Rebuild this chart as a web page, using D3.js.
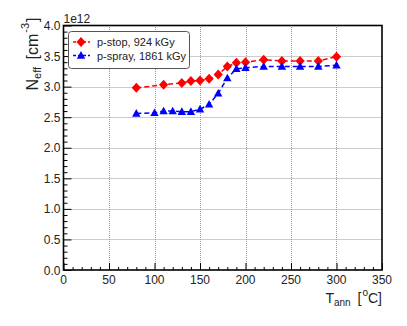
<!DOCTYPE html>
<html>
<head>
<meta charset="utf-8">
<script src="https://cdn.jsdelivr.net/npm/d3@7"></script>
<style>
  body { margin: 0; background: #fff; }
  text { font-family: "Liberation Sans", Arial, sans-serif; }
</style>
</head>
<body>
<svg id="chart" width="407" height="326"></svg>
<script>
// p-stop, 924 kGy
const stopT = [80, 110, 130, 140, 150, 160, 170, 180, 190, 200, 220, 240, 260, 280, 300];
const stopN = [2.98, 3.03, 3.06, 3.09, 3.10, 3.13, 3.20, 3.33, 3.39, 3.40, 3.44, 3.42, 3.42, 3.42, 3.49];
// p-spray, 1861 kGy
const sprayT = [80, 100, 110, 120, 130, 140, 150, 160, 170, 180, 190, 200, 220, 240, 260, 280, 300];
const sprayN = [2.56, 2.57, 2.60, 2.60, 2.59, 2.59, 2.63, 2.71, 2.89, 3.14, 3.29, 3.31, 3.33, 3.33, 3.33, 3.33, 3.35];

const xTicks = [0, 50, 100, 150, 200, 250, 300, 350];
const yTicks = [0, 0.5, 1.0, 1.5, 2.0, 2.5, 3.0, 3.5, 4.0];

const width = 407, height = 326;
const margin = { top: 25.5, right: 25, bottom: 56, left: 63.5 };

const svg = d3.select("#chart");

const x = d3.scaleLinear().domain([0, 350]).range([margin.left, width - margin.right]);
const y = d3.scaleLinear().domain([0, 4]).range([height - margin.bottom, margin.top]);

// grid
const grid = svg.append("g").attr("stroke", "#999").attr("stroke-width", 1).attr("stroke-dasharray", "1,1");
grid.selectAll(".gx").data(xTicks.slice(1, -1)).join("line")
  .attr("x1", d => Math.round(x(d)) + 0.5).attr("x2", d => Math.round(x(d)) + 0.5)
  .attr("y1", y(0)).attr("y2", y(4));
grid.selectAll(".gy").data(yTicks.slice(1, -1)).join("line")
  .attr("x1", x(0)).attr("x2", x(350))
  .attr("y1", d => Math.round(y(d)) + 0.5).attr("y2", d => Math.round(y(d)) + 0.5);

// axes with inside ticks
const xAxis = g => g
  .attr("transform", `translate(0,${y(0)})`)
  .call(d3.axisBottom(x).tickValues(d3.range(0, 351, 10)).tickSize(-3).tickFormat(""))
  .call(g => g.selectAll(".tick line").filter(d => d % 50 === 0).attr("y2", -7))
  .call(g => g.select(".domain").remove());

const yAxis = g => g
  .attr("transform", `translate(${x(0)},0)`)
  .call(d3.axisLeft(y).tickValues(d3.range(0, 41).map(d => d / 10)).tickSize(-4).tickFormat(""))
  .call(g => g.selectAll(".tick line").filter(d => Math.abs(d * 2 - Math.round(d * 2)) < 1e-6).attr("x2", 8))
  .call(g => g.select(".domain").remove());

svg.append("g").call(xAxis);
svg.append("g").call(yAxis);

// tick labels
svg.append("g").selectAll("text").data(xTicks).join("text")
  .attr("x", d => x(d)).attr("y", y(0) + 14)
  .attr("text-anchor", "middle").attr("font-size", 12).attr("fill", "#222")
  .text(d => d);
svg.append("g").selectAll("text").data(yTicks).join("text")
  .attr("x", x(0) - 3).attr("y", d => y(d) + 4.5)
  .attr("text-anchor", "end").attr("font-size", 12).attr("fill", "#222")
  .text(d => d.toFixed(1));
svg.append("text").attr("x", x(0)).attr("y", y(4) - 3)
  .attr("font-size", 12).attr("fill", "#222").text("1e12");

// frame
svg.append("rect")
  .attr("x", x(0)).attr("y", y(4)).attr("width", x(350) - x(0)).attr("height", y(0) - y(4))
  .attr("fill", "none").attr("stroke", "#000").attr("stroke-width", 1.6);

// axis titles
const xt = svg.append("text").attr("x", x(350)).attr("y", 303)
  .attr("text-anchor", "end").attr("font-size", 14).attr("fill", "#222");
xt.append("tspan").text("T");
xt.append("tspan").attr("font-size", 10).attr("dy", 3).text("ann");
xt.append("tspan").attr("dy", -3).attr("dx", 3).text(" [");
xt.append("tspan").attr("font-size", 10).attr("dy", -7).attr("dx", 1).text("o");
xt.append("tspan").attr("dy", 7).text("C]");

const yt = svg.append("text").attr("transform", `translate(38,${y(4) - 8}) rotate(-90)`)
  .attr("text-anchor", "end").attr("font-size", 16).attr("fill", "#222");
yt.append("tspan").text("N");
yt.append("tspan").attr("font-size", 11).attr("dy", 3).text("eff");
yt.append("tspan").attr("dy", -3).attr("dx", 3).text(" [cm");
yt.append("tspan").attr("font-size", 11).attr("dy", -9).attr("dx", 1).text("-3");
yt.append("tspan").attr("dy", 9).attr("dx", 1).text("]");

// marker shapes
const diamond = "M0,-5L4.6,0L0,5L-4.6,0Z";
const triangle = "M0,-4.4L4.2,3.2L-4.2,3.2Z";

// series
const series = [
  { name: "p-stop, 924 kGy", T: stopT, N: stopN, color: "#ff0000", shape: diamond },
  { name: "p-spray, 1861 kGy", T: sprayT, N: sprayN, color: "#0000ff", shape: triangle }
];

const line = d3.line().x(d => x(d[0])).y(d => y(d[1]));

series.forEach(s => {
  const pts = s.T.map((t, i) => [t, s.N[i]]);
  svg.append("path").datum(pts)
    .attr("d", line).attr("fill", "none")
    .attr("stroke", s.color).attr("stroke-width", 1.5).attr("stroke-dasharray", "5,3");
  svg.append("g").selectAll("path").data(pts).join("path")
    .attr("transform", d => `translate(${x(d[0])},${y(d[1])})`)
    .attr("d", s.shape).attr("fill", s.color);
});

// legend
const lg = svg.append("g");
lg.append("rect").attr("x", 68.5).attr("y", 31.5).attr("width", 121).attr("height", 37)
  .attr("rx", 3).attr("fill", "#fff").attr("stroke", "#555").attr("stroke-width", 1);
series.forEach((s, i) => {
  const cy = 42 + i * 13.5;
  lg.append("line").attr("x1", 73).attr("x2", 90).attr("y1", cy).attr("y2", cy)
    .attr("stroke", s.color).attr("stroke-width", 1.5).attr("stroke-dasharray", "3,2");
  lg.append("path").attr("transform", `translate(81,${cy})`)
    .attr("d", s.shape).attr("fill", s.color);
  lg.append("text").attr("x", 97).attr("y", cy + 4).attr("font-size", 11).attr("fill", "#222").text(s.name);
});
</script>
</body>
</html>
